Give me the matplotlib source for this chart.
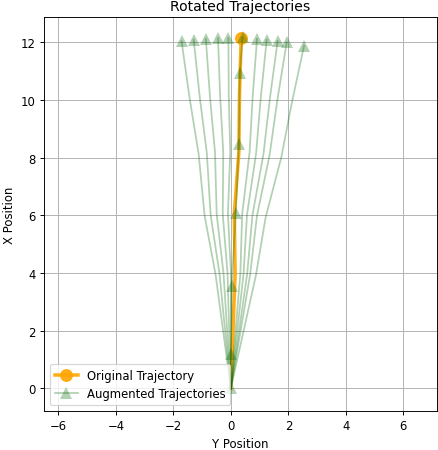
import numpy as np
import matplotlib.pyplot as plt

# Original trajectory (Y position = lateral, X position = forward)
orig_y = [0.0, 0.15, 0.12, 0.28, 0.30, 0.36]
orig_x = [0.0, 4.0, 6.05, 8.2, 10.15, 12.15]

# One augmented trajectory drawn with markers on every point
marked_y = [0.0, 0.0, 0.03, 0.17, 0.28, 0.31, 0.41]
marked_x = [0.0, 1.18, 3.57, 6.07, 8.46, 10.93, 12.17]

# Rotation angles (degrees) of the other augmented trajectories
aug_angles = [-9.8, -7.8, -5.8, -3.8, -2.1, 2.6, 4.2, 6.0, 7.5, 10.4]

fig = plt.figure(figsize=(438 / 84, 451 / 84), dpi=84)
ax = fig.add_axes([0.1005, 0.0865, 0.897, 0.8736])

ax.plot(orig_y, orig_x, color="orange", lw=3, marker="o", markersize=10,
        markevery=[-1], alpha=0.9, label="Original Trajectory")

green_style = dict(color="darkgreen", lw=1.5, alpha=0.3, marker="^",
                   markersize=11, markeredgewidth=0)

ax.plot(marked_y, marked_x, label="Augmented Trajectories", **green_style)

oy = np.array(orig_y)
ox = np.array(orig_x)
for ang in aug_angles:
    t = np.radians(ang)
    ry = oy * np.cos(t) + ox * np.sin(t)
    rx = -oy * np.sin(t) + ox * np.cos(t)
    ax.plot(ry, rx, markevery=[-1], **green_style)

ax.set_xlim(-6.5, 7.17)
ax.set_ylim(-0.78, 12.88)
ax.set_title("Rotated Trajectories")
ax.set_xlabel("Y Position")
ax.set_ylabel("X Position")
ax.grid(True)
ax.legend(loc="lower left")

fig.savefig("out.png", dpi=84)
